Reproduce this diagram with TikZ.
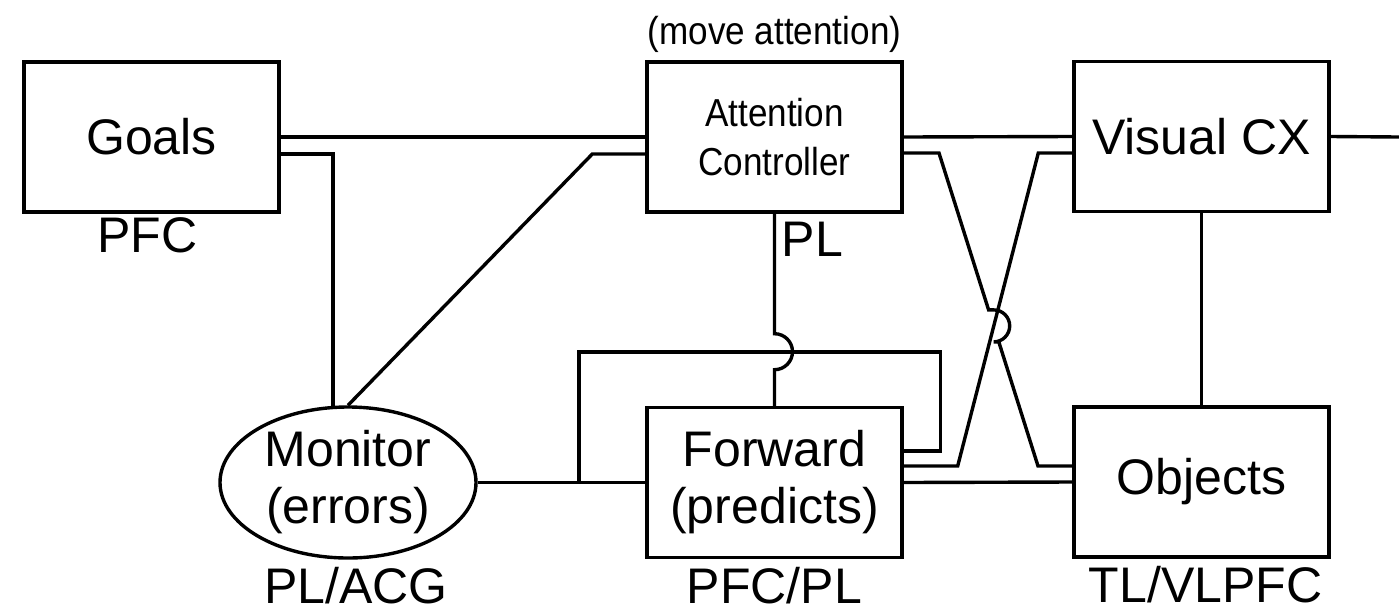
\documentclass[tikz,border=0pt]{standalone}
\usepackage{fontspec}
\setmainfont{Liberation Sans}
\newfontfamily\narrowfont{Liberation Sans}[FakeStretch=0.9]
\usetikzlibrary{positioning, shapes.geometric}

\newcommand{\bigtext}{\fontsize{25}{28.5}\selectfont}
\newcommand{\smalltext}{\narrowfont\fontsize{19.5}{24.5}\selectfont}

\tikzset{
  box/.style={draw, line width=1.7pt, minimum width=127.5pt, minimum height=75pt, inner sep=0pt, align=center, font=\bigtext},
  wire/.style={line width=1.7pt},
  area/.style={inner sep=0pt, font=\bigtext}
}

\begin{document}
\begin{tikzpicture}[x=0.5pt, y=-0.5pt]
    \useasboundingbox (0,0) rectangle (1399,612);
    % blocks
    \node[box] (goals) at (151.5,137) {Goals};
    \node[box, font=\smalltext] (att) at (774.5,137) {Attention\\Controller};
    \node[box] (vis) at (1201.5,136.5) {Visual CX};
    \node[box] (fwd) at (774.5,482.5) {Forward\\(predicts)};
    \node[box] (obj) at (1201.5,482) {Objects};
    \node[draw, ellipse, line width=1.7pt, minimum width=128pt, minimum height=75.5pt, inner sep=0pt] (mon) at (348,482.5) {};
    \node[area, align=center] (montext) at (mon.center) {Monitor\\(errors)};
    % brain areas
    \node[area, font=\smalltext, anchor=base] (movetext) at ([yshift=8pt]att.north) {(move attention)};
    \node[area, anchor=base] (goalsarea) at ([xshift=-2pt, yshift=-19.5pt]goals.south) {PFC};
    \node[area, anchor=base west] (attarea) at ([xshift=3.5pt, yshift=-21.5pt]att.south) {PL};
    \node[area, anchor=base] (monarea) at ([xshift=4pt, yshift=-21.8pt]mon.south) {PL/ACG};
    \node[area, anchor=base] (fwdarea) at ([yshift=-22pt]fwd.south) {PFC/PL};
    \node[area, anchor=base] (objarea) at ([xshift=2pt, yshift=-22pt]obj.south) {TL/VLPFC};
    % connections
    \coordinate (exit) at (1399,137);
    \coordinate (split) at (579,482.5);
    \draw[wire] (goals.east) -- (att.west);
    \draw[wire] ([yshift=-8.5pt]goals.east) -| (mon.101);
    \draw[wire] ([yshift=-8.5pt]att.west) -- ++(-53,0) -- (mon.north);
    \draw[wire] (att.east) -- (vis.west);
    \draw[wire] (vis.east) -- (exit);
    \draw[wire] (vis.south) -- (obj.north);
    \draw[wire] (att.south) -- ++(0,120) arc[start angle=90, end angle=-90, radius=9pt] -- (fwd.north);
    \draw[wire] (mon.east) -- (fwd.west);
    \draw[wire] (split) -- ++(0,-130.5) -| ([xshift=18.5pt, yshift=15.75pt]fwd.east) -- ([yshift=15.75pt]fwd.east);
    \draw[wire] ([yshift=8.25pt]fwd.east) -- ++(54,0) -- ([xshift=-17pt, yshift=-8.25pt]vis.west) -- ([yshift=-8.25pt]vis.west);
    \draw[wire] (fwd.east) -- (obj.west);
    \draw[wire] ([yshift=-8pt]att.east) -- (939,153) -- (988.6,309.9) -- (993.7,309.9)
        arc[start angle=90, end angle=-90, radius=8pt] -- (998.8,341.9) -- (1038,466) -- ([yshift=8pt]obj.west);
\end{tikzpicture}
\end{document}
